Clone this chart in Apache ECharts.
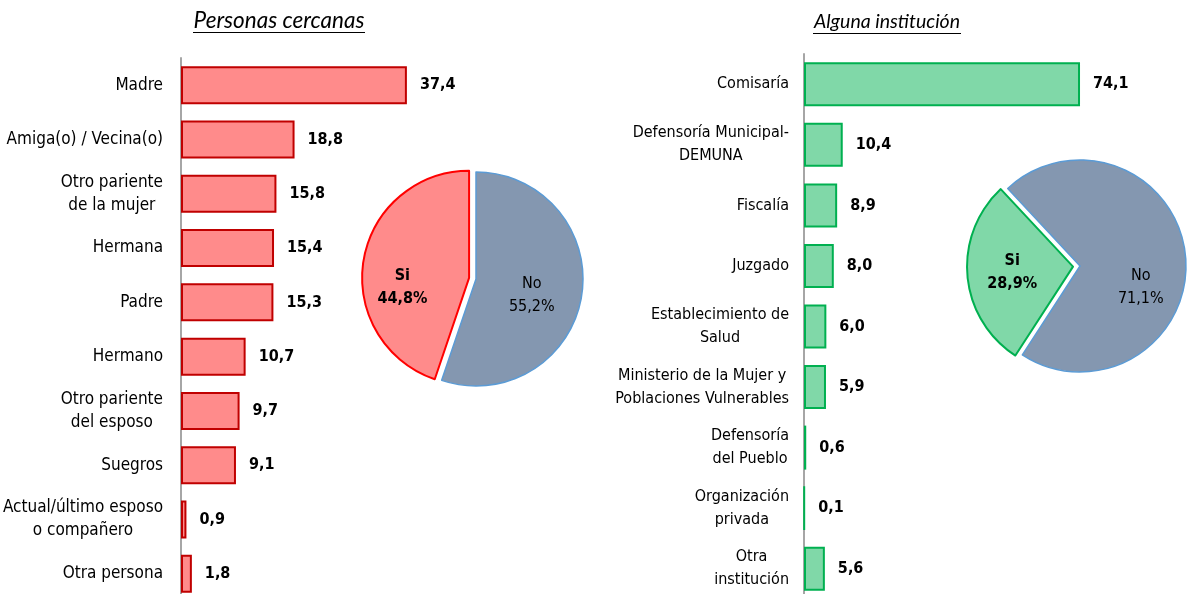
<!DOCTYPE html>
<html lang="es">
<head>
<meta charset="UTF-8">
<title>Personas cercanas / Alguna institución</title>
<style>
  html, body { margin: 0; padding: 0; background: #fff; }
  #chart { width: 1196px; height: 594px; }
</style>
</head>
<body>
<div id="chart"></div>
<script src="https://cdn.jsdelivr.net/npm/echarts@6/dist/echarts.min.js"></script>
<script>
// datos - personas cercanas
var personas = ['Madre', 'Amiga(o) / Vecina(o)', 'Otro pariente\nde la mujer', 'Hermana', 'Padre',
  'Hermano', 'Otro pariente\ndel esposo', 'Suegros', 'Actual/último esposo\no compañero', 'Otra persona'];
var personasVal = [37.4, 18.8, 15.8, 15.4, 15.3, 10.7, 9.7, 9.1, 0.9, 1.8];

// datos - alguna institucion
var instituciones = ['Comisaría', 'Defensoría Municipal-\nDEMUNA', 'Fiscalía', 'Juzgado',
  'Establecimiento de\nSalud', 'Ministerio de la Mujer y\nPoblaciones Vulnerables',
  'Defensoría\ndel Pueblo', 'Organización\nprivada', 'Otra\ninstitución'];
var institucionesVal = [74.1, 10.4, 8.9, 8.0, 6.0, 5.9, 0.6, 0.1, 5.6];

// pies (No, Si)
var pieNames = ['No', 'Si'];
var piePersonas = [55.2, 44.8];
var pieInstituciones = [71.1, 28.9];

var FONT = '"DejaVu Sans Condensed", "Liberation Sans", Arial, sans-serif';
var fmt = function (v) { return v.toFixed(1).replace('.', ','); };
// cada linea centrada dentro del bloque de la etiqueta
var centerLines = function (v) {
  return v.split('\n').map(function (l) { return '{c|' + l + '}'; }).join('\n');
};

var chart = echarts.init(document.getElementById('chart'));

function pieData(vals, siBorder, siFill) {
  return [
    { name: pieNames[0], value: vals[0],
      itemStyle: { color: '#8497B0', borderColor: '#5B9BD5', borderWidth: 1.5 },
      label: { fontWeight: 'normal' } },
    { name: pieNames[1], value: vals[1], selected: true,
      itemStyle: { color: siFill, borderColor: siBorder, borderWidth: 2 },
      label: { fontWeight: 'bold' } }
  ];
}

function catAxis(idx, cats, margin, size) {
  return {
    gridIndex: idx, type: 'category', data: cats, inverse: true,
    axisLine: { lineStyle: { color: '#A6A6A6', width: 2 } },
    axisTick: { show: false },
    axisLabel: {
      color: '#000', fontFamily: FONT, fontSize: size, lineHeight: 23, margin: margin, align: 'right',
      formatter: centerLines,
      rich: { c: { align: 'center', color: '#000', fontFamily: FONT, fontSize: size, lineHeight: 23 } }
    }
  };
}

var option = {
  animation: false,
  graphic: [
    { type: 'text', x: 279, y: 21,
      style: { text: 'Personas cercanas', font: 'italic 22.5px Lato, "Open Sans", sans-serif', fill: '#000',
        textAlign: 'center', textVerticalAlign: 'middle' } },
    { type: 'line', shape: { x1: 193, y1: 32.5, x2: 365, y2: 32.5 }, style: { stroke: '#000', lineWidth: 1 } },
    { type: 'text', x: 887, y: 22,
      style: { text: 'Alguna institución', font: 'italic 19.5px Lato, "Open Sans", sans-serif', fill: '#000',
        textAlign: 'center', textVerticalAlign: 'middle' } },
    { type: 'line', shape: { x1: 813, y1: 33.5, x2: 961, y2: 33.5 }, style: { stroke: '#000', lineWidth: 1 } }
  ],
  grid: [
    { left: 181, top: 58, width: 302, height: 543, outerBoundsMode: 'none' },
    { left: 804, top: 54, width: 298, height: 545, outerBoundsMode: 'none' }
  ],
  xAxis: [
    { gridIndex: 0, type: 'value', min: 0, max: 50, show: false },
    { gridIndex: 1, type: 'value', min: 0, max: 80, show: false }
  ],
  yAxis: [catAxis(0, personas, 18, 17), catAxis(1, instituciones, 15, 16)],
  series: [
    { type: 'bar', xAxisIndex: 0, yAxisIndex: 0, data: personasVal, barWidth: 38,
      itemStyle: { color: '#FF8B8B', borderColor: '#C00000', borderWidth: 2 },
      label: { show: true, position: 'right', distance: 13, color: '#000', fontWeight: 'bold',
        fontFamily: FONT, fontSize: 16, formatter: function (p) { return fmt(p.value); } } },
    { type: 'bar', xAxisIndex: 1, yAxisIndex: 1, data: institucionesVal, barWidth: 44,
      itemStyle: { color: '#80D8A8', borderColor: '#00B050', borderWidth: 2 },
      label: { show: true, position: 'right', distance: 13, color: '#000', fontWeight: 'bold',
        fontFamily: FONT, fontSize: 16, formatter: function (p) { return fmt(p.value); } } },
    { type: 'pie', center: [476, 279], radius: 107, startAngle: 90, clockwise: true,
      selectedMode: 'single', selectedOffset: 7, silent: true,
      data: pieData(piePersonas, '#FF0000', '#FF8B8B'),
      label: { position: 'inside', color: '#000', fontFamily: FONT, fontSize: 16, lineHeight: 23,
        formatter: function (p) { return p.name + '\n' + fmt(p.value) + '%'; } },
      labelLayout: function (p) { return p.dataIndex === 1 ? { dx: -11, dy: 19 } : { dx: 0, dy: 7 }; },
      labelLine: { show: false } },
    { type: 'pie', center: [1080, 266], radius: 106, startAngle: 133, clockwise: true,
      selectedMode: 'single', selectedOffset: 7, silent: true,
      data: pieData(pieInstituciones, '#00B050', '#80D8A8'),
      label: { position: 'inside', color: '#000', fontFamily: FONT, fontSize: 16, lineHeight: 23,
        formatter: function (p) { return p.name + '\n' + fmt(p.value) + '%'; } },
      labelLayout: function (p) { return p.dataIndex === 1 ? { dx: -5, dy: 1 } : { dx: 5, dy: 26 }; },
      labelLine: { show: false } }
  ]
};

chart.setOption(option);
</script>
</body>
</html>
